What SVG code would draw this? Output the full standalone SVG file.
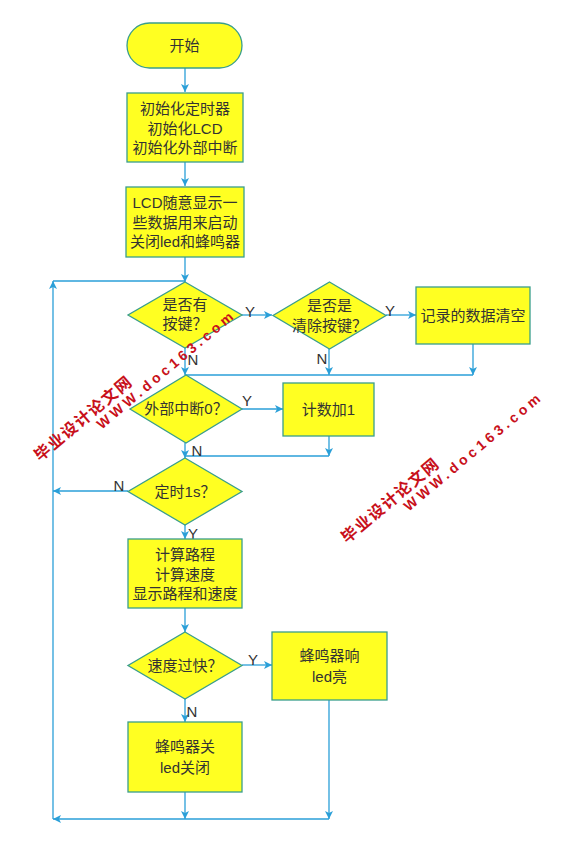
<svg xmlns="http://www.w3.org/2000/svg" width="584" height="863" viewBox="0 0 584 863">
<defs>
<marker id="ar" markerWidth="10" markerHeight="10" refX="9" refY="5" orient="auto" markerUnits="userSpaceOnUse">
<path d="M1,1 L9,5 L1,9 L3,5 Z" fill="#2a9fd8"/>
</marker>
<style>
.n{fill:#ffff22;stroke:#3a9e8c;stroke-width:1.3}
.t{font-family:"Liberation Sans","Noto Sans CJK SC",sans-serif;font-size:15px;fill:#333;text-anchor:middle;dominant-baseline:central}
.c{fill:none;stroke:#2a9fd8;stroke-width:1.3}
.l{font-family:"Liberation Sans","Noto Sans CJK SC",sans-serif;font-size:15px;fill:#333;text-anchor:middle;dominant-baseline:central}
.w1{font-family:"Noto Sans CJK SC",sans-serif;font-size:16px;font-weight:bold;fill:#c8101a;letter-spacing:1.5px}
.w2{font-family:"Liberation Sans",sans-serif;font-size:14px;font-weight:bold;fill:#c8101a;letter-spacing:3.8px}
</style>
</defs>
<rect width="584" height="863" fill="#fff"/>
<g id="connectors">
<path class="c" d="M185,68 V92" marker-end="url(#ar)"/>
<path class="c" d="M185,162 V186" marker-end="url(#ar)"/>
<path class="c" d="M185,257 V282" marker-end="url(#ar)"/>
<path class="c" d="M53,819 V281" marker-end="url(#ar)"/>
<path class="c" d="M53,281 H185"/>
<path class="c" d="M242,315 H272" marker-end="url(#ar)"/>
<path class="c" d="M386,315 H416" marker-end="url(#ar)"/>
<path class="c" d="M473,344 V375" marker-end="url(#ar)"/>
<path class="c" d="M329,349 V375" marker-end="url(#ar)"/>
<path class="c" d="M185,375 H473"/>
<path class="c" d="M185,348 V375" marker-end="url(#ar)"/>
<path class="c" d="M242,409 H283" marker-end="url(#ar)"/>
<path class="c" d="M329,436 V456" marker-end="url(#ar)"/>
<path class="c" d="M185,456 H329"/>
<path class="c" d="M185,443 V458" marker-end="url(#ar)"/>
<path class="c" d="M128,491 H53" marker-end="url(#ar)"/>
<path class="c" d="M185,525 V539" marker-end="url(#ar)"/>
<path class="c" d="M185,608 V632" marker-end="url(#ar)"/>
<path class="c" d="M242,665 H272" marker-end="url(#ar)"/>
<path class="c" d="M185,699 V722" marker-end="url(#ar)"/>
<path class="c" d="M185,792 V819" marker-end="url(#ar)"/>
<path class="c" d="M329,700 V819" marker-end="url(#ar)"/>
<path class="c" d="M329,819 H53" marker-end="url(#ar)"/>
<text class="l" x="250" y="311">Y</text>
<text class="l" x="390" y="310">Y</text>
<text class="l" x="322" y="358">N</text>
<text class="l" x="193" y="359">N</text>
<text class="l" x="247" y="400">Y</text>
<text class="l" x="197" y="450">N</text>
<text class="l" x="119" y="485">N</text>
<text class="l" x="193" y="533">Y</text>
<text class="l" x="253" y="659">Y</text>
<text class="l" x="192" y="711">N</text>
</g>
<g id="start">
<rect class="n" x="127" y="23" width="115" height="45" rx="22.5"/>
<text class="t" x="184.5" y="45.5">开始</text>
</g>
<g id="init">
<rect class="n" x="127" y="93" width="116" height="69"/>
<text class="t" x="185" y="108">初始化定时器</text>
<text class="t" x="185" y="128">初始化LCD</text>
<text class="t" x="185" y="147">初始化外部中断</text>
</g>
<g id="lcd">
<rect class="n" x="126" y="187" width="118" height="70"/>
<text class="t" x="185" y="202">LCD随意显示一</text>
<text class="t" x="185" y="222">些数据用来启动</text>
<text class="t" x="185" y="241">关闭led和蜂鸣器</text>
</g>
<g id="d1">
<polygon class="n" points="185,282 242,315 185,348 128,315"/>
<text class="t" x="185" y="304">是否有</text>
<text class="t" x="185" y="323">按键？</text>
</g>
<g id="d2">
<polygon class="n" points="329.5,282 386,315.5 329.5,349 273,315.5"/>
<text class="t" x="329.5" y="305">是否是</text>
<text class="t" x="329.5" y="325">清除按键？</text>
</g>
<g id="clear">
<rect class="n" x="416" y="287" width="114" height="57"/>
<text class="t" x="473" y="315.5">记录的数据清空</text>
</g>
<g id="d3">
<polygon class="n" points="186,375 242,409 186,443 130,409"/>
<text class="t" x="186" y="408">外部中断0？</text>
</g>
<g id="count">
<rect class="n" x="283" y="383" width="91" height="53"/>
<text class="t" x="328.5" y="409.5">计数加1</text>
</g>
<g id="d4">
<polygon class="n" points="185,458 242,491.5 185,525 128,491.5"/>
<text class="t" x="185" y="491">定时1s？</text>
</g>
<g id="calc">
<rect class="n" x="128" y="539" width="114" height="69"/>
<text class="t" x="185" y="554">计算路程</text>
<text class="t" x="185" y="574">计算速度</text>
<text class="t" x="185" y="593">显示路程和速度</text>
</g>
<g id="d5">
<polygon class="n" points="185,632 242,665.5 185,699 128,665.5"/>
<text class="t" x="185" y="665">速度过快？</text>
</g>
<g id="alarm">
<rect class="n" x="272" y="632" width="115" height="68"/>
<text class="t" x="329.5" y="655">蜂鸣器响</text>
<text class="t" x="329.5" y="676">led亮</text>
</g>
<g id="off">
<rect class="n" x="128" y="722" width="114" height="70"/>
<text class="t" x="185" y="746">蜂鸣器关</text>
<text class="t" x="185" y="767">led关闭</text>
</g>
<g id="watermark1" transform="translate(40,462) rotate(-40)">
<text class="w1" x="0" y="0">毕业设计论文网</text>
<text class="w2" x="68" y="15">WWW.doc163.com</text>
</g>
<g id="watermark2" transform="translate(347,544) rotate(-40)">
<text class="w1" x="0" y="0">毕业设计论文网</text>
<text class="w2" x="68" y="15">WWW.doc163.com</text>
</g>
</svg>
